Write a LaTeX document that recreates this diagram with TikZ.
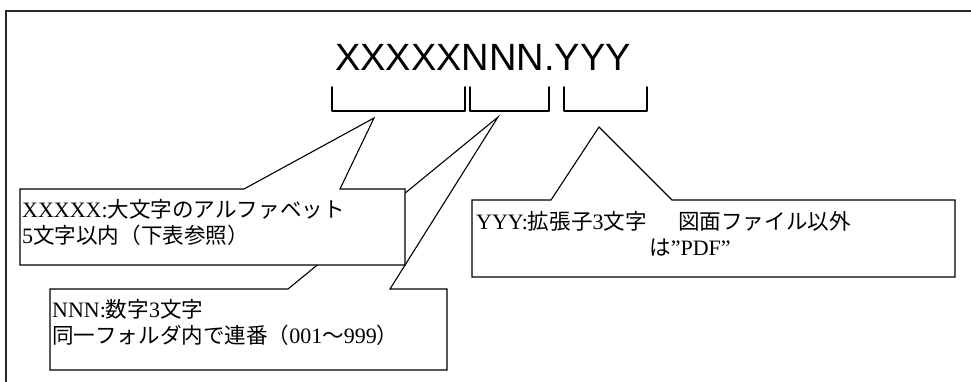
\documentclass[tikz,border=0pt]{standalone}
\usepackage{fontspec}
\setmainfont{Liberation Serif}
\newfontfamily\titlefont{Liberation Sans}
\newfontfamily\jp[Scale=0.98]{Noto Sans CJK JP}
\begin{document}
\begin{tikzpicture}[x=1pt,y=-1pt,
  frame/.style={draw=black!85,line width=1.6pt},
  bracketline/.style={draw=black,line width=1.8pt,line cap=round,line join=round},
  callout/.style={draw=black,fill=white,line width=1.1pt,line join=miter},
  titletext/.style={font=\titlefont\fontsize{38}{40}\selectfont,inner sep=0pt,anchor=base},
  label/.style={font=\fontsize{22}{26}\selectfont,inner sep=0pt,anchor=base west}]
\useasboundingbox (0,0) rectangle (971,381);
\draw[frame] (6,11) rectangle (1000,400);
\node[titletext] (title) at (483,70) {XXXXXNNN.YYY};
% brackets
\draw[bracketline] (332,87) -- (332,111) -- (465,111) -- (465,87);
\draw[bracketline] (470,87) -- (470,111) -- (549,111) -- (549,87);
\draw[bracketline] (564,87) -- (564,111) -- (647,111) -- (647,87);
% callout NNN (behind)
\draw[callout] (50,289) -- (288,289) -- (498,117) -- (390,289) -- (447,289) -- (447,370) -- (50,370) -- cycle;
% callout XXXXX
\draw[callout] (20,189) -- (244,189) -- (374,118) -- (340,189) -- (405,189) -- (405,265) -- (20,265) -- cycle;
% callout YYY
\draw[callout] (472,200) -- (551,200) -- (599,127) -- (672,200) -- (955,200) -- (955,277) -- (472,277) -- cycle;
% texts
\node[label] (x1) at (22,217) {XXXXX:{\jp 大文字のアルファベット}};
\node[label] (x2) at (22,243) {5{\jp 文字以内（下表参照）}};
\node[label] (n1) at (52,317) {NNN:{\jp 数字}3{\jp 文字}};
\node[label] (n2) at (52,343) {{\jp 同一フォルダ内で連番（}001{\jp ～}999{\jp ）}};
\node[label] (y1) at (476,229) {YYY:{\jp 拡張子}3{\jp 文字}};
\node[label] (y2) at (678,229) {{\jp 図面ファイル以外}};
\node[label] (y3) at (649,255) {{\jp は}”PDF”};
\end{tikzpicture}
\end{document}
